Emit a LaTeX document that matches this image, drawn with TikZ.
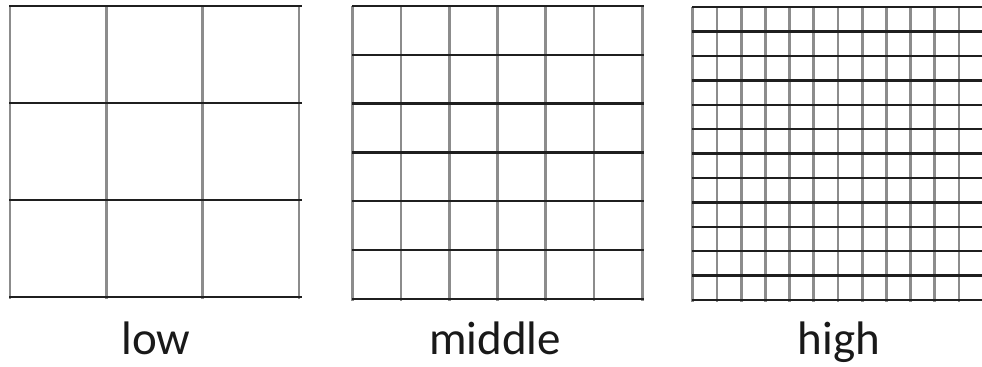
\documentclass[tikz,border=0pt]{standalone}
\usepackage{fontspec}
\setmainfont{Carlito}
\begin{document}
\begin{tikzpicture}[x=0.5pt,y=-0.5pt,
  hline/.style={draw=black!88,line width=1.2pt},
  vline/.style={draw=black!45,line width=1.4pt},
  lbl/.style={anchor=base,font=\fontsize{23.5pt}{28pt}\selectfont,text=black!90,inner sep=0pt}]
\useasboundingbox (0,0) rectangle (982,367);
\clip (0,0) rectangle (982,367);
% low grid: 3x3
\foreach \i in {0,...,3} {
  \draw[vline] ({10+\i*96.3},6) -- ({10+\i*96.3},299);
}
\foreach \j in {0,...,3} {
  \draw[hline] (9,{6+\j*97}) -- (302,{6+\j*97});
}
% middle grid: 6x6
\foreach \i in {0,...,6} {
  \draw[vline] ({352.7+\i*48.25},6) -- ({352.7+\i*48.25},301);
}
\foreach \j in {0,...,6} {
  \draw[hline] (352,{6+\j*48.8}) -- (644,{6+\j*48.8});
}
% high grid: 12x12
\foreach \i in {0,...,12} {
  \draw[vline] ({692.7+\i*24.2},7) -- ({692.7+\i*24.2},302);
}
\foreach \j in {0,...,12} {
  \draw[hline] (692,{7.3+\j*24.4}) -- (984,{7.3+\j*24.4});
}
\node[lbl] (low) at (156,355) {low};
\node[lbl] (middle) at (495,355) {middle};
\node[lbl] (high) at (839,355) {high};
\end{tikzpicture}
\end{document}
